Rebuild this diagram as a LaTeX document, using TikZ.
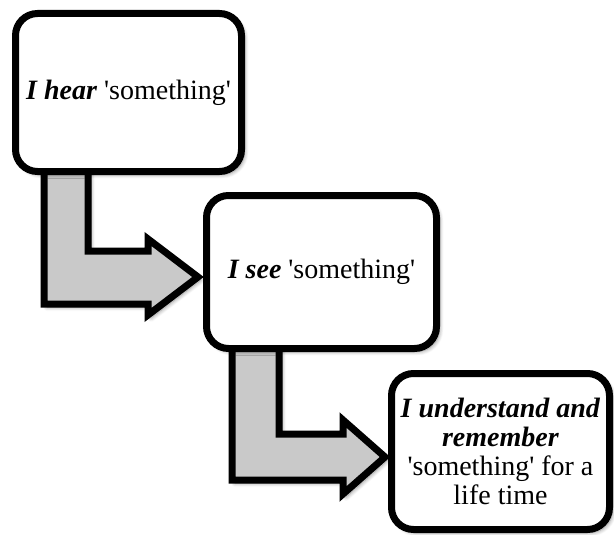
\documentclass[tikz,border=0pt]{standalone}
\usepackage{fontspec}
\setmainfont{Liberation Serif}
\newfontfamily\tnr{Liberation Serif}
\usetikzlibrary{shadows.blur}
\newcommand\sq{\textquotesingle}
\tikzset{
  stepbox/.style={draw=black, line width=7pt, fill=white, rounded corners=22pt,
    align=center, inner sep=0pt,
    font=\tnr\fontsize{28}{29}\selectfont,
    blur shadow={shadow xshift=3pt, shadow yshift=-3pt, shadow blur steps=8, shadow blur radius=4pt, shadow opacity=45}},
  bentarrow/.style={draw=black, line width=7pt, fill=black!21, line join=miter, miter limit=10,
    blur shadow={shadow xshift=3pt, shadow yshift=-3pt, shadow blur steps=8, shadow blur radius=4pt, shadow opacity=45}}
}
\begin{document}
\begin{tikzpicture}[x=1pt,y=-1pt]
\useasboundingbox (0,0) rectangle (614,535);
% arrows (drawn first, boxes cover the stem tops)
\draw[bentarrow] (44,168) -- (44,304) -- (148,304) -- (148,315) -- (198,277) -- (148,239) -- (148,251) -- (88,251) -- (88,168) -- cycle;
\draw[bentarrow] (232,345) -- (232,480) -- (343,480) -- (343,494) -- (385,457) -- (343,420) -- (343,434) -- (279,434) -- (279,345) -- cycle;
% boxes
\node[stepbox, minimum width=226pt, minimum height=158pt] (b1) at (128.5,92.5)
  {\textbf{\textit{I hear}} \sq something\sq};
\node[stepbox, minimum width=230pt, minimum height=153pt] (b2) at (321.5,272)
  {\textbf{\textit{I see}} \sq something\sq};
\node[stepbox, minimum width=218pt, minimum height=156pt] (b3) at (500.5,451.5)
  {\textbf{\textit{I understand and}}\\\textbf{\textit{remember}}\\\sq something\sq{} for a\\life time};
\end{tikzpicture}
\end{document}
